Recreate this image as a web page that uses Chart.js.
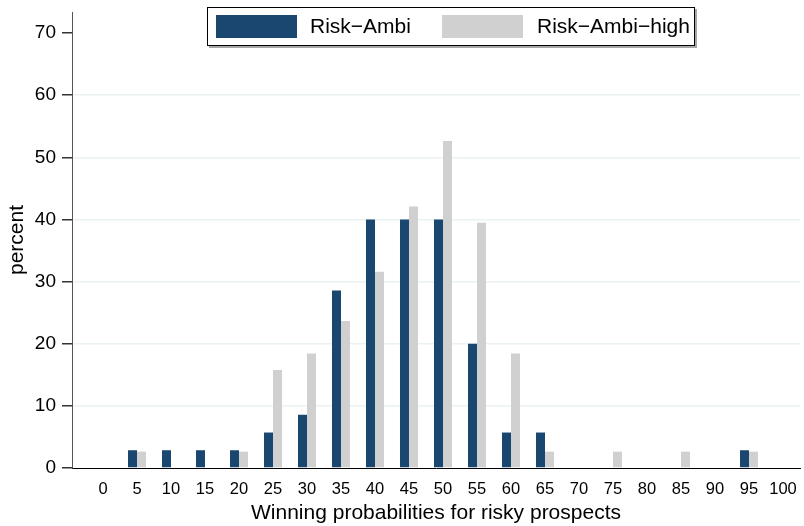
<!DOCTYPE html>
<html>
<head>
<meta charset="utf-8">
<title>Winning probabilities for risky prospects</title>
<script src="https://cdn.jsdelivr.net/npm/chart.js@4/dist/chart.umd.min.js"></script>
<style>
  html, body { margin: 0; padding: 0; background: #ffffff; }
  canvas { display: block; }
</style>
</head>
<body>
<canvas id="chart" width="804" height="526"></canvas>
<script>
// Winning probability categories (percent)
const probabilities = [0, 5, 10, 15, 20, 25, 30, 35, 40, 45, 50, 55, 60, 65, 70, 75, 80, 85, 90, 95, 100];

// Share of answers per category (percent)
const riskAmbi     = [0, 2.86, 2.86, 2.86, 2.86, 5.71, 8.57, 28.57, 40, 40, 40, 20, 5.71, 5.71, 0, 0, 0, 0, 0, 2.86, 0];
const riskAmbiHigh = [0, 2.63, 0, 0, 2.63, 15.79, 18.42, 23.68, 31.58, 42.11, 52.63, 39.47, 18.42, 2.63, 0, 2.63, 0, 2.63, 0, 2.63, 0];

const seriesNames = ['Risk\u2212Ambi', 'Risk\u2212Ambi\u2212high'];
const yTickValues = [0, 10, 20, 30, 40, 50, 60, 70];

const FONT = "'Liberation Sans', Arial, Helvetica, sans-serif";
const NAVY = '#1a476f';
const GREY = '#d0d0d0';

Chart.defaults.font.family = FONT;
Chart.defaults.color = '#000000';

const toPoints = (vals) => probabilities.map((p, i) => ({ x: p, y: vals[i] }));

// Boxed legend drawn over the top of the plot
const boxedLegend = {
  id: 'boxedLegend',
  afterDraw(chart) {
    const ctx = chart.ctx;
    const bx = 207, by = 7, bw = 488, bh = 39;
    ctx.save();
    ctx.fillStyle = 'rgba(0,0,0,0.35)';
    ctx.fillRect(bx + 2, by + 2, bw, bh);
    ctx.fillStyle = '#ffffff';
    ctx.fillRect(bx, by, bw, bh);
    ctx.strokeStyle = '#000000';
    ctx.lineWidth = 1;
    ctx.strokeRect(bx + 0.5, by + 0.5, bw - 1, bh - 1);

    const entries = [
      { sx: 216, tx: 310 },
      { sx: 442, tx: 537 }
    ];
    ctx.font = '21px ' + FONT;
    ctx.textBaseline = 'middle';
    ctx.textAlign = 'left';
    chart.data.datasets.forEach((ds, i) => {
      const e = entries[i];
      ctx.fillStyle = ds.backgroundColor;
      ctx.fillRect(e.sx, 15, 81, 23);
      ctx.fillStyle = '#000000';
      ctx.fillText(ds.label, e.tx, 27);
    });
    ctx.restore();
  }
};

new Chart(document.getElementById('chart'), {
  type: 'bar',
  data: {
    datasets: [
      { label: seriesNames[0], data: toPoints(riskAmbi), backgroundColor: NAVY, borderWidth: 0 },
      { label: seriesNames[1], data: toPoints(riskAmbiHigh), backgroundColor: GREY, borderWidth: 0 }
    ]
  },
  options: {
    responsive: false,
    animation: false,
    devicePixelRatio: 1,
    barPercentage: 1.0,
    categoryPercentage: 0.53,
    layout: { padding: { top: 12, right: 4, left: 0, bottom: 0 } },
    plugins: {
      legend: { display: false },
      tooltip: { enabled: false }
    },
    scales: {
      x: {
        type: 'linear',
        offset: false,
        min: -4.56,
        max: 102.5,
        afterBuildTicks: (s) => { s.ticks = probabilities.map(v => ({ value: v })); },
        afterFit: (s) => { s.height = 58; s.paddingLeft = 0; s.paddingRight = 0; },
        grid: { display: false, drawTicks: false, tickLength: 0 },
        border: { display: true, color: '#000000', width: 1 },
        ticks: {
          autoSkip: false,
          maxRotation: 0,
          padding: 12,
          color: '#000000',
          font: { size: 16.5 }
        },
        title: {
          display: true,
          text: 'Winning probabilities for risky prospects',
          color: '#000000',
          font: { size: 21 },
          padding: { top: 0, bottom: 0 }
        }
      },
      y: {
        min: 0,
        max: 73.4,
        afterBuildTicks: (s) => { s.ticks = yTickValues.map(v => ({ value: v })); },
        afterFit: (s) => { s.width = 72; s.paddingTop = 0; s.paddingBottom = 0; },
        grid: {
          color: (c) => (c.tick && (c.tick.value === 0 || c.tick.value === 70)) ? 'rgba(0,0,0,0)' : '#eaf2f3',
          tickColor: '#333333',
          tickLength: 10,
          lineWidth: 1.5
        },
        border: { display: true, color: '#555555', width: 1 },
        ticks: {
          padding: 6,
          color: '#000000',
          font: { size: 19 }
        },
        title: {
          display: true,
          text: 'percent',
          color: '#000000',
          font: { size: 21 },
          padding: { top: 5, bottom: 0 }
        }
      }
    }
  },
  plugins: [boxedLegend]
});
</script>
</body>
</html>
